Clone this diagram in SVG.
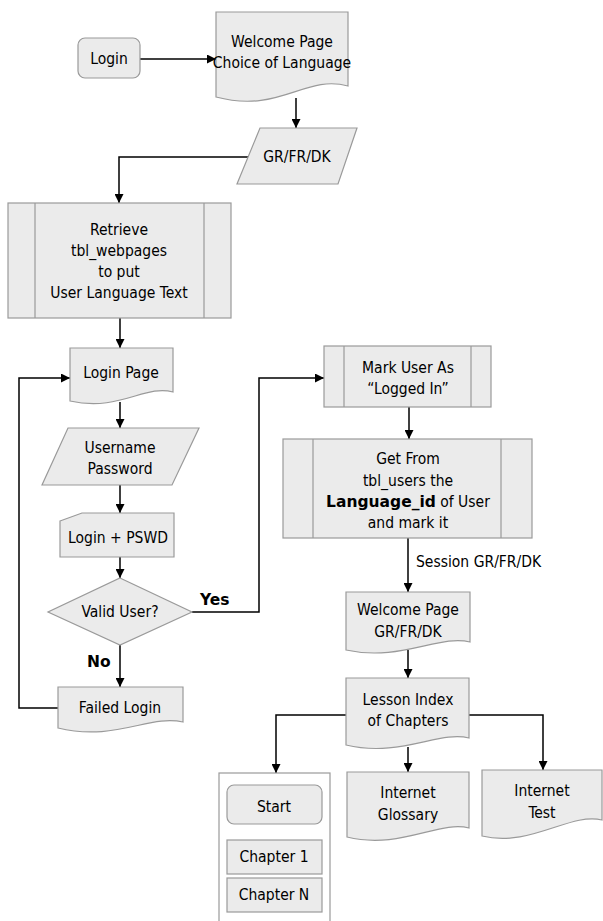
<svg xmlns="http://www.w3.org/2000/svg" width="603" height="921" viewBox="0 0 603 921">
<defs>
<marker id="arr" viewBox="0 0 10 10" refX="10" refY="5" markerWidth="9" markerHeight="9" markerUnits="userSpaceOnUse" orient="auto">
<path d="M0,0 L10,5 L0,10 Z" fill="#000"/>
</marker>
<style>
.s{fill:#ebebeb;stroke:#9a9a9a;stroke-width:1.2}
.c{fill:#fff;stroke:#9a9a9a;stroke-width:1.2}
.l{fill:none;stroke:#000;stroke-width:1.5}
.a{marker-end:url(#arr)}
text{font-family:"DejaVu Sans Condensed","DejaVu Sans",Verdana,sans-serif;font-size:15.5px;fill:#000;text-anchor:middle}
.b{font-weight:bold;font-family:"DejaVu Sans",Verdana,sans-serif}
.st{text-anchor:start}
</style>
</defs>
<rect width="603" height="921" fill="#fff"/>
<g id="connectors">
<path class="l a" d="M140,59 H216"/>
<path class="l a" d="M296,98 V128"/>
<path class="l a" d="M249,157 H119 V203"/>
<path class="l a" d="M120,318 V348"/>
<path class="l a" d="M120,402 V428"/>
<path class="l a" d="M120,485 V513"/>
<path class="l a" d="M120,557 V578"/>
<path class="l a" d="M120,645 V687"/>
<path class="l a" d="M58,708 H19 V378 H70"/>
<path class="l a" d="M192,612 H259 V378 H324"/>
<path class="l a" d="M409,407 V439"/>
<path class="l a" d="M408,538 V592"/>
<path class="l a" d="M408,650 V678"/>
<path class="l a" d="M346,715 H276 V773"/>
<path class="l a" d="M408,747 V772"/>
<path class="l a" d="M469,715 H543 V770"/>
<text class="b st" x="200" y="605">Yes</text>
<text class="b st" x="87" y="667">No</text>
<text class="st" x="416" y="567">Session GR/FR/DK</text>
</g>
<g id="login">
<rect class="s" x="78" y="38" width="62" height="40" rx="7"/>
<text x="109" y="64">Login</text>
</g>
<g id="welcome">
<path class="s" d="M216,12 H348 V86 C305,74 280,114 216,97 Z"/>
<text x="282" y="47">Welcome Page</text>
<text x="282" y="68">Choice of Language</text>
</g>
<g id="lang">
<polygon class="s" points="260,128 357,128 338,184 237,184"/>
<text x="297" y="162">GR/FR/DK</text>
</g>
<g id="retrieve">
<rect class="s" x="8" y="203" width="223" height="115"/>
<path class="s" d="M35,203 V318 M204,203 V318"/>
<text x="119" y="235">Retrieve</text>
<text x="119" y="256">tbl_webpages</text>
<text x="119" y="277">to put</text>
<text x="119" y="298">User Language Text</text>
</g>
<g id="loginpage">
<path class="s" d="M70,348 H173 V392 C145,384 120,412 70,401 Z"/>
<text x="121" y="378">Login Page</text>
</g>
<g id="userpass">
<polygon class="s" points="68,428 199,428 172,485 42,485"/>
<text x="120" y="453">Username</text>
<text x="120" y="474">Password</text>
</g>
<g id="loginpswd">
<polygon class="s" points="60,521 82,513 174,513 174,557 60,557"/>
<text x="118" y="543">Login + PSWD</text>
</g>
<g id="valid">
<polygon class="s" points="120,578 192,612 120,645 48,612"/>
<text x="120" y="617">Valid User?</text>
</g>
<g id="failed">
<path class="s" d="M58,687 H183 V722 C150,714 115,742 58,728 Z"/>
<text x="120" y="713">Failed Login</text>
</g>
<g id="mark">
<rect class="s" x="324" y="346" width="167" height="61"/>
<path class="s" d="M344,346 V407 M471,346 V407"/>
<text x="408" y="373">Mark User As</text>
<text x="408" y="394">“Logged In”</text>
</g>
<g id="getfrom">
<rect class="s" x="283" y="439" width="249" height="99"/>
<path class="s" d="M313,439 V538 M501,439 V538"/>
<text x="408" y="464">Get From</text>
<text x="408" y="486">tbl_users the</text>
<text x="408" y="507"><tspan class="b">Language_id</tspan> of User</text>
<text x="408" y="528">and mark it</text>
</g>
<g id="welcome2">
<path class="s" d="M346,592 H470 V642 C440,634 400,662 346,650 Z"/>
<text x="408" y="615">Welcome Page</text>
<text x="408" y="637">GR/FR/DK</text>
</g>
<g id="lesson">
<path class="s" d="M346,678 H469 V738 C440,730 400,758 346,745 Z"/>
<text x="408" y="705">Lesson Index</text>
<text x="408" y="726">of Chapters</text>
</g>
<g id="chapters">
<rect class="c" x="219" y="773" width="111" height="160"/>
<rect class="s" x="227" y="785" width="95" height="39" rx="7"/>
<text x="274" y="812">Start</text>
<rect class="s" x="227" y="840" width="95" height="34"/>
<text x="274" y="862">Chapter 1</text>
<rect class="s" x="227" y="878" width="95" height="34"/>
<text x="274" y="900">Chapter N</text>
</g>
<g id="glossary">
<path class="s" d="M347,772 H469 V828 C440,820 400,850 347,837 Z"/>
<text x="408" y="798">Internet</text>
<text x="408" y="820">Glossary</text>
</g>
<g id="test">
<path class="s" d="M482,770 H602 V820 C570,812 530,848 482,836 Z"/>
<text x="542" y="796">Internet</text>
<text x="542" y="818">Test</text>
</g>
</svg>
